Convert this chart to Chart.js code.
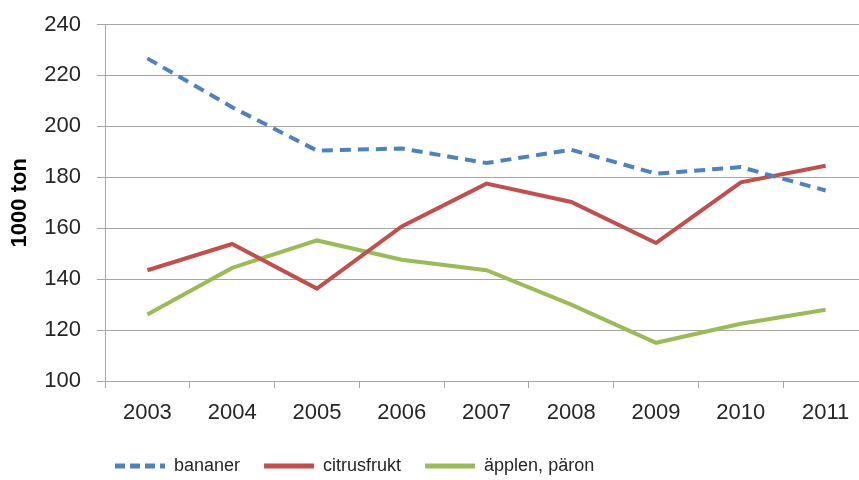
<!DOCTYPE html>
<html>
<head>
<meta charset="utf-8">
<script src="https://cdn.jsdelivr.net/npm/chart.js@4"></script>
<style>
    html, body { margin: 0; padding: 0; background: #fff; overflow: hidden; }
    #wrap { width: 868px; height: 480px; }
</style>
</head>
<body>
<div id="wrap"><canvas id="fruitChart"></canvas></div>
<script>
// Import of fruit, 1000 ton
const years = ['2003', '2004', '2005', '2006', '2007', '2008', '2009', '2010', '2011'];
const bananer = [226.7, 207.5, 190.5, 191.3, 185.6, 190.8, 181.4, 184.0, 174.8];
const citrusfrukt = [143.5, 153.8, 136.3, 160.7, 177.5, 170.3, 154.2, 178.0, 184.5];
const applenParon = [126.1, 144.4, 155.2, 147.6, 143.5, 130.0, 115.0, 122.5, 128.0];
const yTicks = [100, 120, 140, 160, 180, 200, 220, 240];

const gridColor = '#a6a6a6';
const textColor = '#262626';
const font = "'Liberation Sans', Arial, sans-serif";

// move the legend so it starts under the y axis, like the original
const legendShift = {
    id: 'legendShift',
    afterLayout(chart) {
        const legend = chart.legend;
        const w = legend.right - legend.left;
        legend.left = 91;
        legend.right = legend.left + w;
    }
};

document.addEventListener('DOMContentLoaded', function() {
    const ctx = document.getElementById('fruitChart');
    new Chart(ctx, {
        type: 'line',
        data: {
            labels: years,
            datasets: [{
                label: 'bananer',
                data: bananer,
                borderColor: '#4f81bd',
                backgroundColor: '#4f81bd',
                borderWidth: 4,
                borderDash: [11, 7],
                pointRadius: 0,
                tension: 0
            }, {
                label: 'citrusfrukt',
                data: citrusfrukt,
                borderColor: '#c0504d',
                backgroundColor: '#c0504d',
                borderWidth: 4,
                pointRadius: 0,
                tension: 0
            }, {
                label: 'äpplen, päron',
                data: applenParon,
                borderColor: '#9bbb59',
                backgroundColor: '#9bbb59',
                borderWidth: 4,
                pointRadius: 0,
                tension: 0
            }]
        },
        plugins: [legendShift],
        options: {
            responsive: true,
            maintainAspectRatio: false,
            animation: false,
            layout: {
                padding: { top: 24.5, right: 0, bottom: -5, left: 0 }
            },
            plugins: {
                legend: {
                    position: 'bottom',
                    align: 'start',
                    labels: {
                        usePointStyle: true,
                        pointStyleWidth: 50,
                        boxHeight: 18,
                        color: textColor,
                        padding: 24,
                        font: { family: font, size: 18 },
                        generateLabels: function(chart) {
                            return chart.data.datasets.map((ds, i) => ({
                                text: ds.label,
                                fillStyle: ds.borderColor,
                                strokeStyle: ds.borderColor,
                                lineWidth: 5,
                                lineDash: ds.borderDash ? [10, 5] : [],
                                lineCap: 'butt',
                                pointStyle: 'line',
                                hidden: false,
                                fontColor: textColor,
                                datasetIndex: i
                            }));
                        }
                    }
                },
                tooltip: { enabled: false }
            },
            scales: {
                x: {
                    offset: true,
                    afterFit: function(axis) { axis.height = 52; },
                    grid: {
                        offset: true,
                        drawOnChartArea: false,
                        drawTicks: true,
                        tickLength: 7,
                        color: gridColor
                    },
                    border: { color: gridColor, width: 1 },
                    ticks: {
                        color: textColor,
                        padding: 12,
                        maxRotation: 0,
                        font: { family: font, size: 22 }
                    }
                },
                y: {
                    min: 100,
                    max: 240,
                    afterFit: function(axis) {
                        axis.width = 105;
                        axis.paddingTop = 0;
                    },
                    afterBuildTicks: function(axis) {
                        axis.ticks = yTicks.map(v => ({ value: v }));
                    },
                    grid: {
                        color: gridColor,
                        tickLength: 8
                    },
                    border: { color: gridColor, width: 1 },
                    ticks: {
                        color: textColor,
                        padding: 16,
                        font: { family: font, size: 22 }
                    },
                    title: {
                        display: true,
                        text: '1000 ton',
                        color: '#000',
                        padding: { top: 7, bottom: 0 },
                        font: { family: font, size: 22, weight: 'bold' }
                    }
                }
            }
        }
    });
});
</script>
</body>
</html>
